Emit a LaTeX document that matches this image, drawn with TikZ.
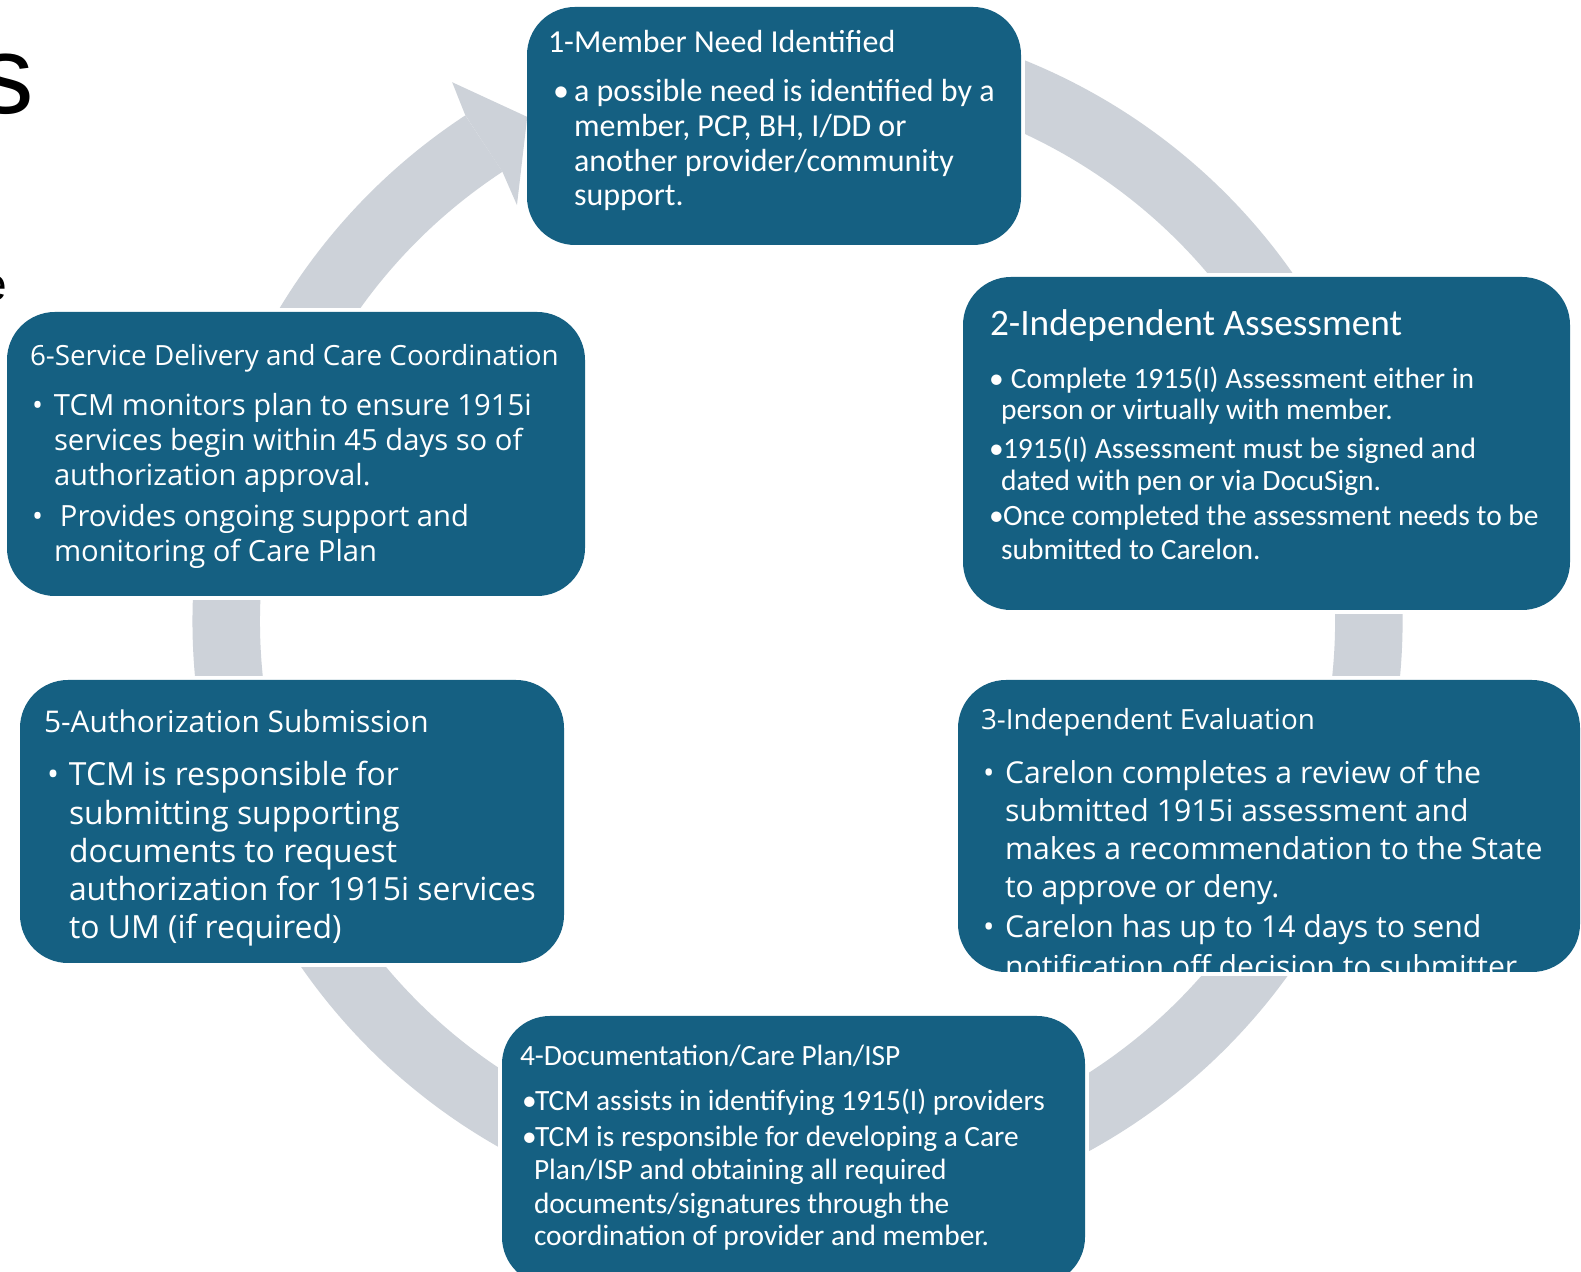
\documentclass[tikz,border=0pt]{standalone}
\usepackage{fontspec}
\newfontfamily\calfont{Carlito}
\newfontfamily\osfont{Open Sans}
\newfontfamily\arfont{Liberation Sans}
\definecolor{boxblue}{HTML}{156082}
\definecolor{ringgrey}{RGB}{205,210,217}
\pgfdeclarelayer{bg}
\pgfsetlayers{bg,main}
\tikzset{
  stepbox/.style={fill=boxblue, draw=none, rounded corners=48pt, inner sep=0pt, outer sep=0pt, anchor=south west},
  txt/.style={text=white, inner sep=0pt, outer sep=0pt, anchor=base west},
  fone/.style={font=\calfont\fontsize{32}{35}\selectfont},
  ftwoT/.style={font=\calfont\fontsize{37.3}{42}\selectfont},
  ftwo/.style={font=\calfont\fontsize{29.5}{32}\selectfont},
  fthreeT/.style={font=\osfont\fontsize{27.8}{34}\selectfont},
  fthree/.style={font=\osfont\fontsize{30.2}{38}\selectfont},
  ffour/.style={font=\calfont\fontsize{29.4}{32}\selectfont},
  ffiveT/.style={font=\osfont\fontsize{29.9}{36}\selectfont},
  ffive/.style={font=\osfont\fontsize{31.9}{38}\selectfont},
  fsixT/.style={font=\osfont\fontsize{27.8}{34}\selectfont},
  fsix/.style={font=\osfont\fontsize{29.2}{35}\selectfont},
  ring/.style={ringgrey, line width=67.5pt},
  cover/.style={fill=white, draw=none},
}
\begin{document}
\begin{tikzpicture}[x=1pt,y=1pt]
\useasboundingbox (0,0) rectangle (1581,1271);

% boxes
\node[stepbox, minimum width=494pt, minimum height=238pt] (b1) at (527,1026) {};
\node[stepbox, minimum width=607pt, minimum height=333pt] (b2) at (963,661) {};
\node[stepbox, minimum width=622pt, minimum height=292pt] (b3) at (958,299) {};
\node[stepbox, minimum width=583pt, minimum height=269pt] (b4) at (502,-14) {};
\node[stepbox, minimum width=544pt, minimum height=283pt] (b5) at (20,308) {};
\node[stepbox, minimum width=578pt, minimum height=284pt] (b6) at (7,675) {};

% background: ring with arrow, cut near boxes
\begin{pgfonlayer}{bg}
  \fill[white] (0,0) rectangle (1581,1271);
  \coordinate (C) at (797.5,650);
  \draw[ring] ([shift={(C)}]115.5:571.25) arc[start angle=115.5, end angle=-236.7, radius=571.25];
  \foreach \b in {b1,b2,b3,b4,b5,b6}
    \fill[cover] ([shift={(-4,-4)}]\b.south west) rectangle ([shift={(4,4)}]\b.north east);
  \fill[ringgrey] ([shift={(C)}]122.66:640) -- ([shift={(C)}]118.2:572)
     -- ([shift={(C)}]124.0:501.7) -- ([shift={(C)}]123.3:537.5)
     -- ([shift={(C)}]123.3:605) -- cycle;
\end{pgfonlayer}

% cropped title letters at left edge
\node[anchor=base west, inner sep=0pt, font=\arfont\fontsize{111}{111}\selectfont] (sfrag) at (-22,1157) {s};
\node[anchor=base west, inner sep=0pt, font=\arfont\fontsize{46}{46}\selectfont] (efrag) at (-19,970) {e};

% box 1
\node[txt, fone] (t1) at (548,1218) {1-Member Need Identified};
\node[txt, fone] (l1a) at (553,1169) {\makebox[21pt][l]{•}a possible need is identified by a};
\node[txt, fone] (l1b) at (574,1134) {member, PCP, BH, I/DD or};
\node[txt, fone] (l1c) at (574,1099) {another provider/community};
\node[txt, fone] (l1d) at (574,1065) {support.};

% box 2
\node[txt, ftwoT] (t2) at (990,935) {2-Independent Assessment};
\node[txt, ftwo] (l2a) at (989,882) {\makebox[22pt][l]{•}Complete 1915(I) Assessment either in};
\node[txt, ftwo] (l2b) at (1001,851) {person or virtually with member.};
\node[txt, ftwo] (l2c) at (989,812) {\makebox[14pt][l]{•}1915(I) Assessment must be signed and};
\node[txt, ftwo] (l2d) at (1001,780) {dated with pen or via DocuSign.};
\node[txt, ftwo] (l2e) at (989,745) {\makebox[14pt][l]{•}Once completed the assessment needs to be};
\node[txt, ftwo] (l2f) at (1001,711) {submitted to Carelon.};

% box 3 (text clipped by the box)
\begin{scope}
  \clip[rounded corners=48pt] (958,299) rectangle (1580,591);
  \node[txt, fthreeT] (t3) at (981,541) {3-Independent Evaluation};
  \node[txt, fthree] (l3a) at (983,487) {\makebox[22pt][l]{•}Carelon completes a review of the};
  \node[txt, fthree] (l3b) at (1005,449) {submitted 1915i assessment and};
  \node[txt, fthree] (l3c) at (1005,411) {makes a recommendation to the State};
  \node[txt, fthree] (l3d) at (1005,373) {to approve or deny.};
  \node[txt, fthree] (l3e) at (983,333) {\makebox[22pt][l]{•}Carelon has up to 14 days to send};
  \node[txt, fthree] (l3f) at (1005,293) {notification off decision to submitter.};
\end{scope}

% box 4
\node[txt, ffour] (t4) at (520,205) {4-Documentation/Care Plan/ISP};
\node[txt, ffour] (l4a) at (522,160) {\makebox[13pt][l]{•}TCM assists in identifying 1915(I) providers};
\node[txt, ffour] (l4b) at (522,124) {\makebox[13pt][l]{•}TCM is responsible for developing a Care};
\node[txt, ffour] (l4c) at (534,92) {Plan/ISP and obtaining all required};
\node[txt, ffour] (l4d) at (534,58) {documents/signatures through the};
\node[txt, ffour] (l4e) at (534,26) {coordination of provider and member.};

% box 5
\node[txt, ffiveT] (t5) at (44,538) {5-Authorization Submission};
\node[txt, ffive] (l5a) at (47,485) {\makebox[22pt][l]{•}TCM is responsible for};
\node[txt, ffive] (l5b) at (69,446) {submitting supporting};
\node[txt, ffive] (l5c) at (69,408) {documents to request};
\node[txt, ffive] (l5d) at (69,370) {authorization for 1915i services};
\node[txt, ffive] (l5e) at (69,332) {to UM (if required)};

% box 6
\node[txt, fsixT] (t6) at (30,905) {6-Service Delivery and Care Coordination};
\node[txt, fsix] (l6a) at (32,855) {\makebox[22pt][l]{•}TCM monitors plan to ensure 1915i};
\node[txt, fsix] (l6b) at (54,820) {services begin within 45 days so of};
\node[txt, fsix] (l6c) at (54,785) {authorization approval.};
\node[txt, fsix] (l6d) at (32,744) {\makebox[28pt][l]{•}Provides ongoing support and};
\node[txt, fsix] (l6e) at (54,709) {monitoring of Care Plan};
\end{tikzpicture}
\end{document}
